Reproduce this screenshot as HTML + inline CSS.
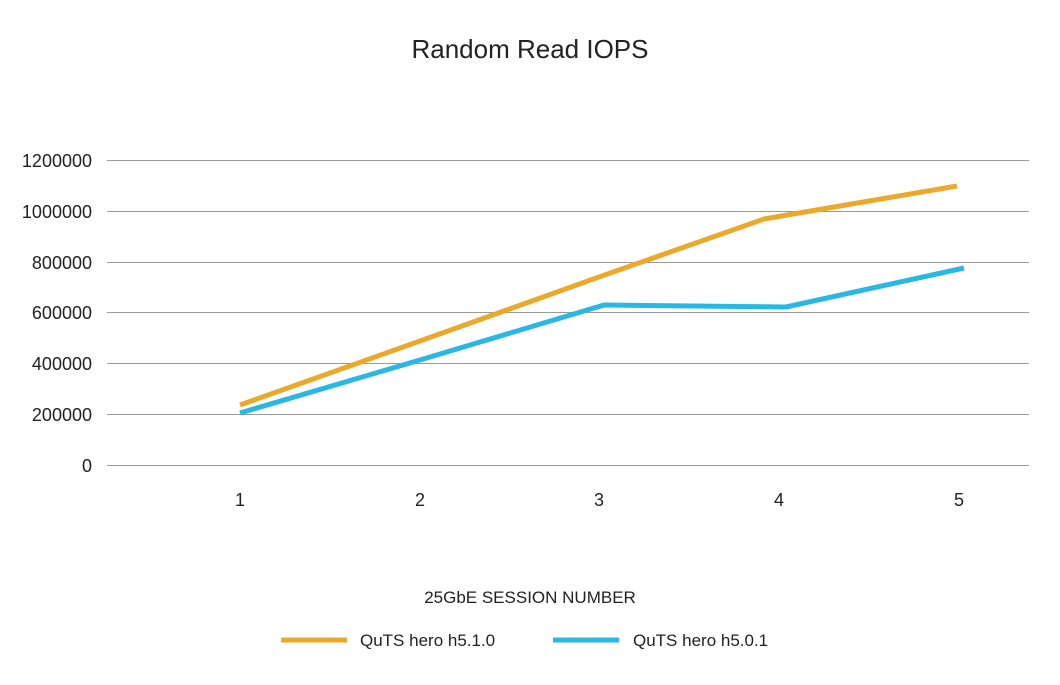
<!DOCTYPE html>
<html><head><meta charset="utf-8"><style>
body{margin:0;background:#fff;}
svg text{font-family:"Liberation Sans",sans-serif;fill:#222;}
</style></head><body>
<svg width="1060" height="680" viewBox="0 0 1060 680" xmlns="http://www.w3.org/2000/svg">
<rect width="1060" height="680" fill="#fff"/>
<text x="530" y="58" font-size="26" text-anchor="middle">Random Read IOPS</text>
<g stroke="#9a9a9a" stroke-width="1">
<line x1="107" y1="160.5" x2="1029" y2="160.5"/>
<line x1="107" y1="211.5" x2="1029" y2="211.5"/>
<line x1="107" y1="262.5" x2="1029" y2="262.5"/>
<line x1="107" y1="312.5" x2="1029" y2="312.5"/>
<line x1="107" y1="363.5" x2="1029" y2="363.5"/>
<line x1="107" y1="414.5" x2="1029" y2="414.5"/>
<line x1="107" y1="465.5" x2="1029" y2="465.5"/>
</g>
<g font-size="18" text-anchor="end" fill="#333">
<text x="92" y="167">1200000</text>
<text x="92" y="218">1000000</text>
<text x="92" y="269">800000</text>
<text x="92" y="319">600000</text>
<text x="92" y="370">400000</text>
<text x="92" y="421">200000</text>
<text x="92" y="472">0</text>
</g>
<g font-size="18" text-anchor="middle">
<text x="240" y="506">1</text>
<text x="420" y="506">2</text>
<text x="599" y="506">3</text>
<text x="779" y="506">4</text>
<text x="959" y="506">5</text>
</g>
<polyline points="240,405 420,341 599,277 764,219 957,186" fill="none" stroke="#eba92c" stroke-width="5" stroke-linejoin="round"/>
<polyline points="240,413 420,360 604,305 786,307 964,268" fill="none" stroke="#2ab7e3" stroke-width="5" stroke-linejoin="round"/>
<text x="530" y="603" font-size="17" text-anchor="middle">25GbE SESSION NUMBER</text>
<line x1="281" y1="640" x2="347" y2="640" stroke="#eba92c" stroke-width="5"/>
<text x="360" y="646" font-size="17" fill="#444">QuTS hero h5.1.0</text>
<line x1="553" y1="640" x2="619" y2="640" stroke="#2ab7e3" stroke-width="5"/>
<text x="633" y="646" font-size="17" fill="#444">QuTS hero h5.0.1</text>
</svg>
</body></html>
